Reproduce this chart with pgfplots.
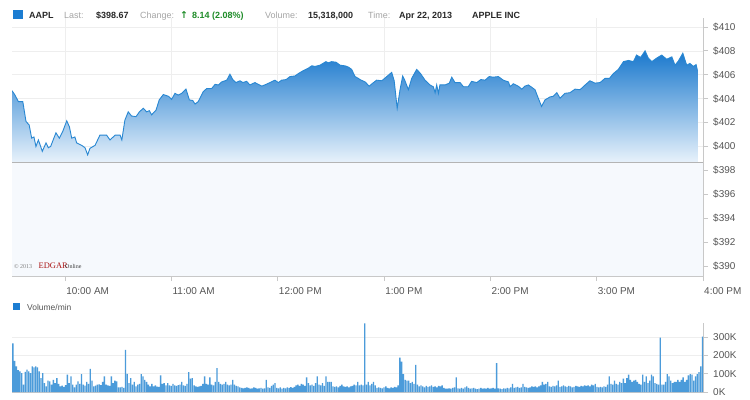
\documentclass[border=0pt]{standalone}
\usepackage{fontspec}
\setmainfont{Liberation Sans}
\newfontfamily\serifed{Liberation Serif}
\newfontfamily\djv{DejaVu Sans}
\usepackage{pgfplots}
\pgfplotsset{compat=1.18}
\definecolor{titleblue}{RGB}{28,125,210}
\definecolor{linecol}{RGB}{40,135,210}
\definecolor{areatop}{RGB}{25,120,205}
\definecolor{areabot}{RGB}{232,242,251}
\definecolor{bgtint}{RGB}{246,249,253}
\definecolor{barcol}{RGB}{75,155,218}
\definecolor{gridcol}{RGB}{238,238,238}
\definecolor{axiscol}{RGB}{200,200,200}
\definecolor{tickcol}{RGB}{85,85,85}
\definecolor{lblgray}{RGB}{165,165,165}
\definecolor{valcol}{RGB}{40,40,40}
\definecolor{upgreen}{RGB}{30,140,40}
\definecolor{edgarred}{RGB}{170,20,20}
\definecolor{closeline}{RGB}{180,180,180}
\begin{document}
\begin{tikzpicture}[x=1bp,y=1bp]
\fill[white] (0,0) rectangle (750,399);
\useasboundingbox (0,0) rectangle (750,399);
% ---- title row
\fill[titleblue] (13,380) rectangle (23,389);
\begin{scope}[every node/.style={anchor=base west, inner sep=0pt, font=\fontsize{9}{10}\selectfont}]
\node[text=valcol, font=\fontsize{9}{10}\selectfont\bfseries] at (29,381) {AAPL};
\node[text=lblgray] at (64,381) {Last:};
\node[text=valcol, font=\fontsize{9}{10}\selectfont\bfseries] at (96,381) {\$398.67};
\node[text=lblgray] at (140,381) {Change:};
\node[text=upgreen, font=\fontsize{9.5}{10}\selectfont\bfseries\djv] at (180,381) {↑};
\node[text=upgreen, font=\fontsize{9}{10}\selectfont\bfseries] at (192,381) {8.14 (2.08\%)};
\node[text=lblgray] at (265,381) {Volume:};
\node[text=valcol, font=\fontsize{9}{10}\selectfont\bfseries] at (308,381) {15,318,000};
\node[text=lblgray] at (368,381) {Time:};
\node[text=valcol, font=\fontsize{9}{10}\selectfont\bfseries] at (399,381) {Apr 22, 2013};
\node[text=valcol, font=\fontsize{9}{10}\selectfont\bfseries] at (472,381) {APPLE INC};
\end{scope}
% ---- price chart
\begin{axis}[
  at={(12bp,123bp)}, anchor=south west, scale only axis,
  width=691bp, height=258bp,
  xmin=0, xmax=390, ymin=389.17, ymax=410.75,
  axis x line*=bottom, axis y line*=right,
  axis line style={draw=axiscol, line width=0.8bp},
  xtick={30,90,150,210,270,330,390},
  xticklabels={10:00 AM,11:00 AM,12:00 PM,1:00 PM,2:00 PM,3:00 PM,4:00 PM},
  ytick={390,392,...,410},
  yticklabels={\$390,\$392,\$394,\$396,\$398,\$400,\$402,\$404,\$406,\$408,\$410},
  tick style={draw=axiscol, line width=0.8bp},
  major tick length=5bp, tick align=outside,
  xmajorgrids, ymajorgrids, grid style={draw=gridcol, line width=0.6bp},
  ticklabel style={font=\fontsize{10}{12}\selectfont, text=tickcol},
  xticklabel style={anchor=north west, inner sep=0pt, xshift=1bp, yshift=-6bp},
  yticklabel style={anchor=west, inner sep=0pt, xshift=5bp},
  /pgf/number format/assume math mode=true,
]
\addplot[draw=none, fill=bgtint, forget plot] coordinates {(0,389.17) (390,389.17) (390,398.67) (0,398.67)};
\addplot[draw=none, top color=areatop, bottom color=areabot, forget plot] coordinates {
(0,398.67) (0,404.67) (1.7,404.3) (3.6,403.75) (6.1,403.75) (7.9,402.1) (9.7,401.8) (11.1,400.7) (12.4,400.8) (13.5,400.0) (14.9,400.55) (17.1,399.6) (19.2,400.3) (20.5,399.9) (21.8,400.0) (24.8,401.15) (26.7,400.7) (28.6,401.25) (30.9,402.15) (32.4,401.65) (33.7,400.7) (35.5,400.8) (36.5,400.3) (39.3,400.1) (41.2,399.9) (42.7,399.3) (44.0,399.85) (46.9,400.1) (49.6,400.95) (53.4,400.95) (55.3,400.55) (58.2,400.95) (61.0,400.95) (62.0,400.55) (63.7,402.2) (65.6,402.9) (67.5,402.55) (70.0,402.5) (71.9,402.9) (74.1,403.2) (76.0,402.9) (77.5,403.0) (78.8,402.65) (81.3,403.05) (83.1,403.9) (85.4,404.35) (88.3,404.2) (90.1,403.95) (92.0,404.45) (93.8,404.3) (95.8,404.45) (98.2,404.8) (100.1,403.9) (102.0,403.85) (103.3,403.55) (105.1,403.75) (108.0,404.6) (109.9,404.85) (112.7,404.85) (114.6,405.2) (116.5,405.15) (118.3,405.4) (121.2,405.55) (123.0,406.05) (124.6,405.6) (126.4,405.35) (128.7,405.5) (130.3,405.35) (132.4,405.45) (134.3,405.15) (137.1,405.35) (139.0,405.2) (141.0,405.05) (143.4,405.2) (145.6,405.35) (148.4,405.55) (150.3,405.35) (152.2,405.55) (154.7,405.6) (156.9,405.85) (159.7,405.9) (161.6,406.1) (164.4,406.35) (167.2,406.55) (169.2,406.75) (171.1,406.7) (173.8,406.8) (177.2,407.1) (178.5,407.0) (180.4,407.1) (182.9,407.05) (185.2,406.8) (187.9,406.75) (189.8,406.65) (191.7,406.45) (193.6,405.85) (195.5,405.7) (196.4,405.6) (199.3,405.4) (201.6,405.05) (203.6,405.3) (205.8,405.55) (208.7,405.5) (211.5,405.85) (214.3,406.2) (215.7,405.5) (217.4,403.2) (219.0,404.75) (220.5,405.9) (221.8,405.5) (223.7,404.75) (225.6,405.7) (228.4,406.45) (230.6,406.1) (233.1,405.55) (235.9,405.15) (237.8,405.0) (238.8,404.5) (239.7,405.15) (240.7,404.45) (241.5,405.15) (244.4,405.15) (246.8,405.3) (248.2,405.8) (250.0,405.35) (252.9,405.35) (254.8,405.0) (257.5,405.0) (259.4,405.45) (262.3,405.35) (264.6,405.6) (267.0,405.55) (269.3,405.85) (271.6,405.8) (274.5,405.85) (277.3,405.55) (280.2,405.4) (281.1,405.0) (282.9,405.25) (285.7,405.05) (287.7,404.8) (289.5,405.05) (291.4,405.15) (293.4,404.95) (295.2,404.75) (297.0,404.05) (298.9,403.35) (300.8,403.9) (303.7,404.15) (305.5,404.2) (307.5,404.5) (309.3,404.05) (312.1,404.45) (314.9,404.5) (317.8,404.8) (320.6,404.75) (323.5,405.15) (326.2,405.5) (329.0,405.3) (331.9,405.35) (334.7,405.7) (337.2,405.7) (339.4,406.1) (342.2,406.45) (345.1,407.1) (347.9,407.2) (350.7,407.1) (352.5,407.65) (354.8,407.45) (357.3,408.0) (359.1,407.4) (361.1,407.1) (363.9,407.4) (366.7,407.65) (369.5,407.3) (372.4,407.5) (374.2,406.8) (376.1,407.15) (378.6,407.8) (380.8,406.8) (382.6,406.95) (384.5,406.7) (386.1,406.85) (386.8,406.4) (386.8,398.67)};
\addplot[linecol, line width=0.9bp, forget plot] coordinates {
(0,404.67) (1.7,404.3) (3.6,403.75) (6.1,403.75) (7.9,402.1) (9.7,401.8) (11.1,400.7) (12.4,400.8) (13.5,400.0) (14.9,400.55) (17.1,399.6) (19.2,400.3) (20.5,399.9) (21.8,400.0) (24.8,401.15) (26.7,400.7) (28.6,401.25) (30.9,402.15) (32.4,401.65) (33.7,400.7) (35.5,400.8) (36.5,400.3) (39.3,400.1) (41.2,399.9) (42.7,399.3) (44.0,399.85) (46.9,400.1) (49.6,400.95) (53.4,400.95) (55.3,400.55) (58.2,400.95) (61.0,400.95) (62.0,400.55) (63.7,402.2) (65.6,402.9) (67.5,402.55) (70.0,402.5) (71.9,402.9) (74.1,403.2) (76.0,402.9) (77.5,403.0) (78.8,402.65) (81.3,403.05) (83.1,403.9) (85.4,404.35) (88.3,404.2) (90.1,403.95) (92.0,404.45) (93.8,404.3) (95.8,404.45) (98.2,404.8) (100.1,403.9) (102.0,403.85) (103.3,403.55) (105.1,403.75) (108.0,404.6) (109.9,404.85) (112.7,404.85) (114.6,405.2) (116.5,405.15) (118.3,405.4) (121.2,405.55) (123.0,406.05) (124.6,405.6) (126.4,405.35) (128.7,405.5) (130.3,405.35) (132.4,405.45) (134.3,405.15) (137.1,405.35) (139.0,405.2) (141.0,405.05) (143.4,405.2) (145.6,405.35) (148.4,405.55) (150.3,405.35) (152.2,405.55) (154.7,405.6) (156.9,405.85) (159.7,405.9) (161.6,406.1) (164.4,406.35) (167.2,406.55) (169.2,406.75) (171.1,406.7) (173.8,406.8) (177.2,407.1) (178.5,407.0) (180.4,407.1) (182.9,407.05) (185.2,406.8) (187.9,406.75) (189.8,406.65) (191.7,406.45) (193.6,405.85) (195.5,405.7) (196.4,405.6) (199.3,405.4) (201.6,405.05) (203.6,405.3) (205.8,405.55) (208.7,405.5) (211.5,405.85) (214.3,406.2) (215.7,405.5) (217.4,403.2) (219.0,404.75) (220.5,405.9) (221.8,405.5) (223.7,404.75) (225.6,405.7) (228.4,406.45) (230.6,406.1) (233.1,405.55) (235.9,405.15) (237.8,405.0) (238.8,404.5) (239.7,405.15) (240.7,404.45) (241.5,405.15) (244.4,405.15) (246.8,405.3) (248.2,405.8) (250.0,405.35) (252.9,405.35) (254.8,405.0) (257.5,405.0) (259.4,405.45) (262.3,405.35) (264.6,405.6) (267.0,405.55) (269.3,405.85) (271.6,405.8) (274.5,405.85) (277.3,405.55) (280.2,405.4) (281.1,405.0) (282.9,405.25) (285.7,405.05) (287.7,404.8) (289.5,405.05) (291.4,405.15) (293.4,404.95) (295.2,404.75) (297.0,404.05) (298.9,403.35) (300.8,403.9) (303.7,404.15) (305.5,404.2) (307.5,404.5) (309.3,404.05) (312.1,404.45) (314.9,404.5) (317.8,404.8) (320.6,404.75) (323.5,405.15) (326.2,405.5) (329.0,405.3) (331.9,405.35) (334.7,405.7) (337.2,405.7) (339.4,406.1) (342.2,406.45) (345.1,407.1) (347.9,407.2) (350.7,407.1) (352.5,407.65) (354.8,407.45) (357.3,408.0) (359.1,407.4) (361.1,407.1) (363.9,407.4) (366.7,407.65) (369.5,407.3) (372.4,407.5) (374.2,406.8) (376.1,407.15) (378.6,407.8) (380.8,406.8) (382.6,406.95) (384.5,406.7) (386.1,406.85) (386.8,406.4)};
\addplot[closeline, line width=1.6bp, forget plot] coordinates {(0,398.67) (390,398.67)};
\end{axis}
% copyright
\node[anchor=base west, inner sep=0pt, text=gray, font=\serifed\fontsize{6}{7}\selectfont] at (14,131) {© 2013};
\node[anchor=base west, inner sep=0pt, text=edgarred, font=\serifed\fontsize{8.5}{9}\selectfont] at (38.5,131) {EDGAR};
\node[anchor=base west, inner sep=0pt, text=darkgray, font=\serifed\fontsize{6}{7}\selectfont] at (65,131) {Online};
% volume legend
\fill[titleblue] (13,89) rectangle (20,96);
\node[anchor=base west, inner sep=0pt, text=tickcol, font=\fontsize{8.5}{10}\selectfont] at (27,88.5) {Volume/min};
% ---- volume chart
\begin{axis}[
  at={(12bp,7bp)}, anchor=south west, scale only axis,
  width=691bp, height=69bp,
  xmin=-0.5, xmax=392.3, ymin=0, ymax=378,
  axis x line*=bottom, axis y line*=right,
  axis line style={draw=axiscol, line width=0.8bp},
  xtick=\empty,
  ytick={0,100,200,300}, yticklabels={0K,100K,200K,300K},
  tick style={draw=axiscol, line width=0.8bp},
  major tick length=5bp, tick align=outside,
  ymajorgrids, grid style={draw=gridcol, line width=0.6bp},
  ticklabel style={font=\fontsize{10}{12}\selectfont, text=tickcol},
  yticklabel style={anchor=west, inner sep=0pt, xshift=5bp},
  /pgf/number format/assume math mode=true,
]
\addplot[ybar, bar width=1.35bp, fill=barcol, draw=none] coordinates {
(0,267)(1,170)(2,140)(3,120)(4,113)(5,104)(6,40)(7,110)(8,122)(9,113)(10,104)(11,140)(12,135)(13,140)(14,135)(15,113)(16,76)(17,104)(18,49)(19,31)(20,62)(21,58)(22,40)(23,67)(24,49)(25,76)(26,44)(27,31)(28,35)(29,28)(30,38)(31,95)(32,49)(33,85)(34,40)(35,25)(36,40)(37,58)(38,45)(39,98)(40,40)(41,35)(42,55)(43,45)(44,127)(45,62)(46,31)(47,35)(48,40)(49,42)(50,38)(51,55)(52,85)(53,40)(54,36)(55,33)(56,85)(57,49)(58,62)(59,58)(60,25)(61,25)(62,28)(63,22)(64,231)(65,100)(66,49)(67,76)(68,40)(69,55)(70,31)(71,40)(72,45)(73,98)(74,85)(75,67)(76,55)(77,40)(78,31)(79,44)(80,31)(81,36)(82,30)(83,28)(84,91)(85,44)(86,49)(87,36)(88,49)(89,36)(90,33)(91,44)(92,36)(93,33)(94,38)(95,40)(96,55)(97,36)(98,33)(99,45)
(100,109)(101,73)(102,76)(103,36)(104,31)(105,28)(106,31)(107,33)(108,44)(109,85)(110,44)(111,40)(112,80)(113,40)(114,36)(115,55)(116,131)(117,55)(118,45)(119,40)(120,44)(121,55)(122,40)(123,36)(124,40)(125,67)(126,40)(127,33)(128,31)(129,25)(130,22)(131,20)(132,22)(133,25)(134,22)(135,18)(136,20)(137,25)(138,22)(139,18)(140,20)(141,22)(142,18)(143,20)(144,67)(145,25)(146,22)(147,33)(148,40)(149,49)(150,22)(151,20)(152,25)(153,18)(154,22)(155,20)(156,25)(157,22)(158,27)(159,22)(160,28)(161,36)(162,40)(163,33)(164,44)(165,40)(166,33)(167,80)(168,49)(169,36)(170,40)(171,33)(172,49)(173,85)(174,40)(175,36)(176,49)(177,33)(178,85)(179,55)(180,55)(181,55)(182,31)(183,28)(184,31)(185,25)(186,33)(187,40)(188,31)(189,28)(190,31)(191,25)(192,31)(193,33)(194,40)(195,36)(196,55)(197,36)(198,40)(199,36)
(200,376)(201,40)(202,55)(203,36)(204,44)(205,55)(206,36)(207,22)(208,25)(209,22)(210,20)(211,25)(212,31)(213,22)(214,20)(215,25)(216,22)(217,28)(218,25)(219,36)(220,189)(221,167)(222,98)(223,67)(224,62)(225,62)(226,49)(227,55)(228,44)(229,149)(230,40)(231,31)(232,36)(233,31)(234,25)(235,33)(236,28)(237,31)(238,36)(239,28)(240,31)(241,25)(242,33)(243,31)(244,36)(245,22)(246,18)(247,18)(248,20)(249,18)(250,22)(251,25)(252,80)(253,20)(254,18)(255,22)(256,18)(257,25)(258,31)(259,22)(260,18)(261,20)(262,22)(263,18)(264,16)(265,18)(266,22)(267,18)(268,20)(269,18)(270,22)(271,18)(272,20)(273,22)(274,18)(275,158)(276,20)(277,18)(278,16)(279,20)(280,18)(281,22)(282,20)(283,25)(284,44)(285,22)(286,25)(287,28)(288,22)(289,25)(290,44)(291,28)(292,25)(293,22)(294,25)(295,31)(296,28)(297,31)(298,25)(299,31)
(300,36)(301,55)(302,40)(303,44)(304,55)(305,31)(306,28)(307,33)(308,31)(309,36)(310,62)(311,28)(312,31)(313,36)(314,31)(315,28)(316,33)(317,31)(318,25)(319,28)(320,33)(321,31)(322,28)(323,33)(324,31)(325,36)(326,33)(327,36)(328,31)(329,40)(330,36)(331,44)(332,28)(333,25)(334,28)(335,25)(336,31)(337,28)(338,40)(339,85)(340,44)(341,40)(342,62)(343,44)(344,40)(345,55)(346,49)(347,73)(348,49)(349,76)(350,95)(351,67)(352,55)(353,62)(354,67)(355,55)(356,44)(357,40)(358,95)(359,55)(360,85)(361,49)(362,62)(363,95)(364,85)(365,49)(366,44)(367,40)(368,298)(369,40)(370,40)(371,55)(372,98)(373,85)(374,62)(375,49)(376,55)(377,55)(378,67)(379,55)(380,67)(381,80)(382,55)(383,67)(384,91)(385,98)(386,95)(387,62)(388,85)(389,98)(390,109)(391,140)(392,304)};
\end{axis}
\end{tikzpicture}
\end{document}
